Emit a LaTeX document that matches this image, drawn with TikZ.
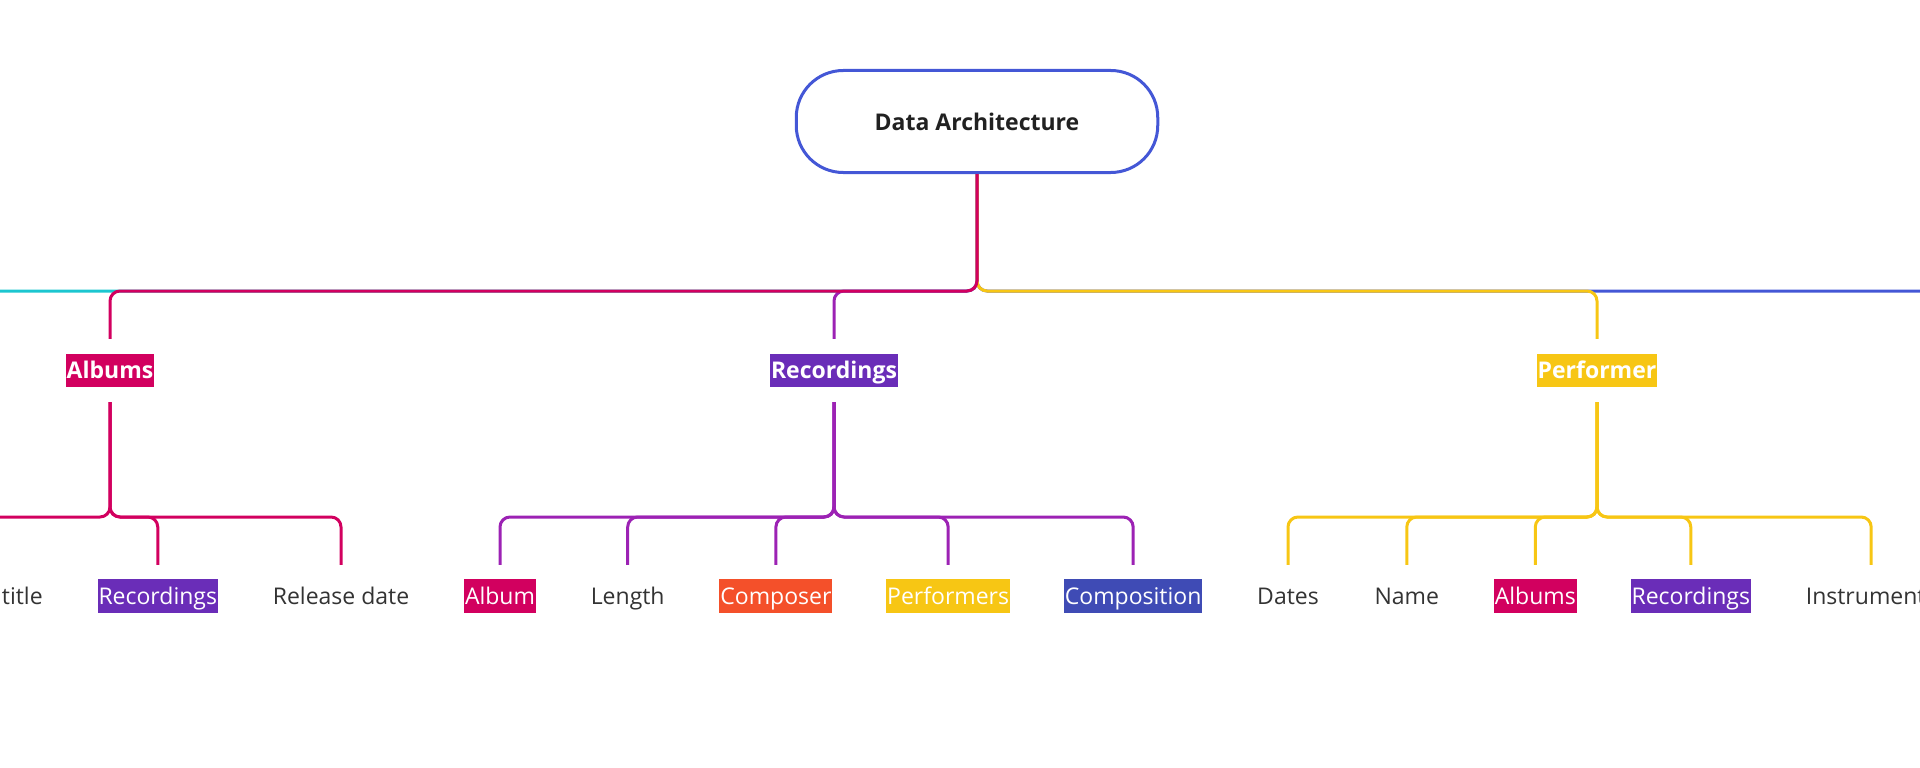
\documentclass[tikz,border=0pt]{standalone}
\usepackage{fontspec}
\setmainfont{Open Sans}
\usetikzlibrary{positioning}

\definecolor{archblue}{HTML}{4457D6}
\definecolor{albumred}{HTML}{D2005F}
\definecolor{recviolet}{HTML}{6A2DB8}
\definecolor{recline}{HTML}{9C22B4}
\definecolor{perfgold}{HTML}{F7C614}
\definecolor{compred}{HTML}{F4502A}
\definecolor{compblue}{HTML}{3F4BB5}
\definecolor{westcyan}{HTML}{1CC6D0}
\definecolor{leaftext}{HTML}{333333}

\begin{document}
\begin{tikzpicture}[x=1pt,y=-1pt,node distance=53.4pt,
    fork/.style={line width=3pt,rounded corners=10pt,
      to path={-- (\tikztostart |- #1) -- (\tikztotarget |- #1) -- (\tikztotarget)}},
    twig/.style={shorten <=15pt,shorten >=14pt},
    root/.style={draw=archblue,line width=3pt,rounded corners=47pt,
      minimum width=361.5pt,minimum height=102pt,text=black!87,
      font=\bfseries\fontsize{23}{28}\selectfont},
    head/.style={fill=#1,text=white,inner xsep=1pt,inner ysep=0pt,
      text height=24pt,text depth=9pt,font=\bfseries\fontsize{23}{28}\selectfont},
    leaf/.style={inner xsep=1pt,inner ysep=0pt,text height=25pt,text depth=9pt,
      text=leaftext,font=\fontsize{23}{28}\selectfont},
    tag/.style={leaf,fill=#1,text=white}]
  \useasboundingbox (0,0) rectangle (1920,768);

  \node[root]          (arch)   at (977,121.5)  {Data Architecture};
  \node[head=albumred] (albums) at (110,370.5)  {Albums};
  \node[head=recviolet](recs)   at (834,370.5)  {Recordings};
  \node[head=perfgold] (perf)   at (1597,370.5) {Performer};

  \coordinate (lvla) at (0,291);
  \coordinate (lvlb) at (0,517);
  \coordinate (wbranch) at (-160,339);
  \coordinate (ebranch) at (2100,339);

  % leaves, one row
  \node[tag=albumred]  (ralbum)       at (500,596)       {Album};
  \node[leaf]          (areldate)     [left=of ralbum]   {Release date};
  \node[tag=recviolet] (arecs)        [left=of areldate] {Recordings};
  \node[leaf]          (atitle)       [left=of arecs]    {Album title};
  \node[leaf]          (rlength)      [right=of ralbum]  {Length};
  \node[tag=compred]   (rcomposer)    [right=of rlength] {Composer};
  \node[tag=perfgold]  (rperformers)  [right=of rcomposer] {Performers};
  \node[tag=compblue]  (rcomposition) [right=of rperformers] {Composition};
  \node[leaf]          (pdates)       [right=of rcomposition] {Dates};
  \node[leaf]          (pname)        [right=of pdates]  {Name};
  \node[tag=albumred]  (palbums)      [right=of pname]   {Albums};
  \node[tag=recviolet] (precs)        [right=of palbums] {Recordings};
  \node[leaf]          (pinstr)       [right=of precs]   {Instruments};

  \path[westcyan] (arch) edge[fork=lvla] (wbranch);
  \path[archblue] (arch) edge[fork=lvla] (ebranch);
  \path[recline]
        (arch) edge[fork=lvla,shorten >=15pt] (recs)
        (recs) edge[fork=lvlb,twig] (ralbum)
        (recs) edge[fork=lvlb,twig] (rlength)
        (recs) edge[fork=lvlb,twig] (rcomposer)
        (recs) edge[fork=lvlb,twig] (rperformers)
        (recs) edge[fork=lvlb,twig] (rcomposition);
  \path[perfgold]
        (arch) edge[fork=lvla,shorten >=15pt] (perf)
        (perf) edge[fork=lvlb,twig] (pdates)
        (perf) edge[fork=lvlb,twig] (pname)
        (perf) edge[fork=lvlb,twig] (palbums)
        (perf) edge[fork=lvlb,twig] (precs)
        (perf) edge[fork=lvlb,twig] (pinstr);
  \path[albumred]
        (arch) edge[fork=lvla,shorten >=15pt] (albums)
        (albums) edge[fork=lvlb,twig] (atitle)
        (albums) edge[fork=lvlb,twig] (arecs)
        (albums) edge[fork=lvlb,twig] (areldate);
\end{tikzpicture}
\end{document}
